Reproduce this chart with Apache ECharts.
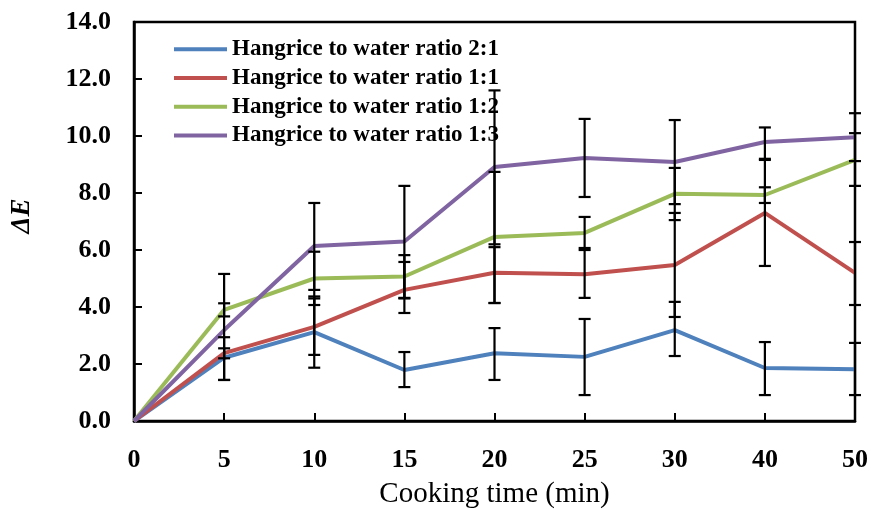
<!DOCTYPE html>
<html>
<head>
<meta charset="utf-8">
<script src="https://cdn.jsdelivr.net/npm/echarts@6/dist/echarts.min.js"></script>
<style>html,body{margin:0;padding:0;background:#fff;}#c{width:874px;height:509px;}</style>
</head>
<body>
<div id="c"></div>
<script>
const categories = ['0','5','10','15','20','25','30','40','50'];
const seriesNames = ['Hangrice to water ratio 2:1','Hangrice to water ratio 1:1','Hangrice to water ratio 1:2','Hangrice to water ratio 1:3'];
const blue   = [0, 2.22, 3.12, 1.79, 2.38, 2.25, 3.19, 1.86, 1.82];
const red    = [0, 2.38, 3.30, 4.60, 5.20, 5.15, 5.47, 7.30, 5.20];
const green  = [0, 3.90, 5.00, 5.07, 6.46, 6.60, 7.97, 7.93, 9.16];
const purple = [0, 3.19, 6.14, 6.30, 8.91, 9.23, 9.09, 9.79, 9.96];
// error bar ranges [low, high] per category (null = none)
const blueErr   = [null,[1.44,2.94],[1.87,4.37],[1.19,2.42],[1.44,3.26],[0.91,3.58],[2.28,4.18],[0.91,2.77],[0.91,2.74]];
const redErr    = [null,[2.20,2.55],[2.32,4.30],[3.79,5.58],[4.14,6.10],[4.32,6.00],[3.65,7.30],[5.44,9.16],[4.07,6.28]];
const greenErr  = [null,[3.67,4.13],[4.07,5.94],[4.32,5.82],[4.14,8.74],[6.07,7.16],[7.05,8.88],[7.65,8.20],[8.25,10.10]];
const purpleErr = [null,[1.44,5.16],[4.60,7.65],[4.30,8.25],[6.20,11.60],[7.86,10.60],[7.61,10.56],[9.20,10.30],[9.12,10.80]];
const yTicks = [0,2,4,6,8,10,12,14];
const xTitle = 'Cooking time (min)';
const yTitle = 'ΔE';

const colors = ['#4F81BD','#C0504D','#9BBB59','#8064A2'];
const values = [blue, red, green, purple];
const errs = [blueErr, redErr, greenErr, purpleErr];

const FONT = '"Liberation Serif","Times New Roman",serif';

function errData(e){
  const out = [];
  e.forEach((r,i)=>{ if(r) out.push([i, r[0], r[1]]); });
  return out;
}
function renderErr(params, api){
  const x = api.value(0);
  const lo = api.coord([x, api.value(1)]);
  const hi = api.coord([x, api.value(2)]);
  const hw = 6;
  const style = {stroke:'#000', lineWidth:2.2, fill:null};
  return {type:'group', children:[
    {type:'line', shape:{x1:lo[0],y1:lo[1],x2:hi[0],y2:hi[1]}, style},
    {type:'line', shape:{x1:lo[0]-hw,y1:lo[1],x2:lo[0]+hw,y2:lo[1]}, style},
    {type:'line', shape:{x1:hi[0]-hw,y1:hi[1],x2:hi[0]+hw,y2:hi[1]}, style}
  ]};
}

const series = [];
values.forEach((v,i)=>{
  series.push({
    name: seriesNames[i], type:'line', data:v, symbol:'none', smooth:false,
    lineStyle:{color:colors[i], width:4}, itemStyle:{color:colors[i]}, z:2, animation:false
  });
});
errs.forEach((e,i)=>{
  series.push({
    type:'custom', data:errData(e), renderItem:renderErr, z:5, animation:false, silent:true
  });
});

const chart = echarts.init(document.getElementById('c'), null, {renderer:'canvas'});
chart.setOption({
  backgroundColor:'#fff',
  animation:false,
  grid:{left:134, right:19, top:22, bottom:88, containLabel:false, outerBoundsMode:'none',
        show:true, borderColor:'#000', borderWidth:2.5, backgroundColor:'transparent'},
  legend:{
    orient:'vertical', left:169, top:30, icon:'rect', itemWidth:53, itemHeight:4, itemGap:0,
    data: seriesNames,
    textStyle:{fontFamily:FONT, fontWeight:'bold', fontSize:23, color:'#000', lineHeight:28.7}
  },
  graphic:[{
    type:'text', x:22, y:216, rotation:Math.PI/2,
    style:{text:yTitle, font:'italic bold 27px "Liberation Serif", serif', fill:'#000', align:'center', verticalAlign:'middle'}
  }],
  xAxis:{
    type:'category', data:categories, boundaryGap:false,
    axisLine:{lineStyle:{color:'#000', width:2.5}},
    axisTick:{inside:true, length:8, lineStyle:{color:'#000', width:2}, alignWithLabel:true},
    axisLabel:{fontFamily:FONT, fontWeight:'bold', fontSize:26, color:'#000', margin:26},
    splitLine:{show:false},
    name:xTitle, nameLocation:'middle', nameGap:59,
    nameTextStyle:{fontFamily:FONT, fontSize:29, color:'#000'}
  },
  yAxis:{
    type:'value', min:0, max:14, interval:2,
    axisLine:{show:true, lineStyle:{color:'#000', width:2.5}},
    axisTick:{show:true, inside:true, length:8, lineStyle:{color:'#000', width:2}},
    axisLabel:{fontFamily:FONT, fontWeight:'bold', fontSize:26, color:'#000', margin:23,
      formatter:(v)=> yTicks.indexOf(v)>=0 ? v.toFixed(1) : ''},
    splitLine:{show:false}
  },
  series: series
});
</script>
</body>
</html>
